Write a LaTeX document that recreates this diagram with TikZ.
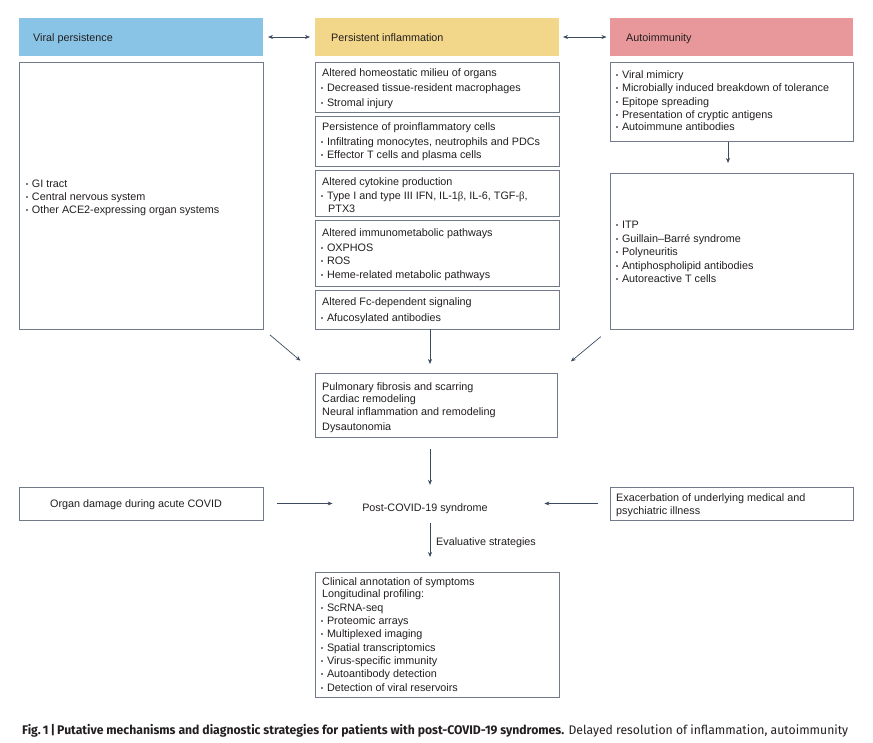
\documentclass[tikz,border=0pt]{standalone}
\usepackage{fontspec}
\usepackage{graphicx}
\setmainfont{Liberation Sans}
\newfontfamily\capfont{Fira Sans}
\newfontfamily\grk{Liberation Serif}
\usetikzlibrary{arrows.meta}
\definecolor{vblue}{RGB}{137,196,230}
\definecolor{pyellow}{RGB}{242,214,138}
\definecolor{apink}{RGB}{232,152,154}
\definecolor{boxline}{RGB}{112,122,136}
\definecolor{arrowc}{RGB}{62,75,94}
\definecolor{txtc}{RGB}{35,31,32}
\definecolor{bulc}{RGB}{125,125,125}
\newcommand{\bul}{\textcolor{bulc}{\rule[2.6pt]{1.8pt}{1.8pt}}\hspace{4pt}}
\begin{document}
\begin{tikzpicture}[x=1pt,y=-1pt,
  hdr/.style={draw=none, minimum height=38pt, anchor=north west, inner sep=0, outer sep=0},
  box/.style={draw=boxline, line width=0.8pt, anchor=north west, inner sep=0, outer sep=0},
  tx/.style={anchor=west, inner sep=0, yshift=-1.8pt, text height=7.8pt, text depth=2.2pt, text=txtc, font=\fontsize{10.8}{13}\selectfont},
  arr/.style={draw=arrowc, line width=0.7pt, -{Stealth[length=5pt,width=4pt]}},
  darr/.style={draw=arrowc, line width=0.7pt, {Stealth[length=5pt,width=4pt]}-{Stealth[length=5pt,width=4pt]}}
]
\useasboundingbox (0,0) rectangle (873,743);
\fill[white] (0,0) rectangle (873,743);

% headers
\node[hdr, fill=vblue, minimum width=244pt] (vh) at (19,18) {};
\node[hdr, fill=pyellow, minimum width=244pt] (ph) at (315,18) {};
\node[hdr, fill=apink, minimum width=243pt] (ah) at (610,18) {};
\node[tx] (vht) at (33,37) {Viral persistence};
\node[tx] (pht) at (331,37) {Persistent inflammation};
\node[tx] (aht) at (626,37) {Autoimmunity};

% viral box
\node[box, minimum width=244pt, minimum height=267pt] (vbox) at (19,62) {};
\node[tx] (v1) at (26,183) {\bul GI tract};
\node[tx] (v2) at (26,196) {\bul Central nervous system};
\node[tx] (v3) at (26,209) {\bul Other ACE2-expressing organ systems};

% middle boxes
\node[box, minimum width=244pt, minimum height=50pt] (m1) at (315,62) {};
\node[tx] (m1a) at (322,72) {Altered homeostatic milieu of organs};
\node[tx] (m1b) at (321,87) {\bul Decreased tissue-resident macrophages};
\node[tx] (m1c) at (321,102) {\bul Stromal injury};

\node[box, minimum width=244pt, minimum height=50pt] (m2) at (315,116) {};
\node[tx] (m2a) at (322,126) {Persistence of proinflammatory cells};
\node[tx] (m2b) at (321,141) {\bul Infiltrating monocytes, neutrophils and PDCs};
\node[tx] (m2c) at (321,154) {\bul Effector T cells and plasma cells};

\node[box, minimum width=244pt, minimum height=46pt] (m3) at (315,170) {};
\node[tx] (m3a) at (322,181) {Altered cytokine production};
\node[tx] (m3b) at (321,195) {\bul Type I and type III IFN, IL-1{\grk β}, IL-6, TGF-{\grk β},};
\node[tx] (m3c) at (328,208) {PTX3};

\node[box, minimum width=244pt, minimum height=66pt] (m4) at (315,220) {};
\node[tx] (m4a) at (322,232) {Altered immunometabolic pathways};
\node[tx] (m4b) at (321,247) {\bul OXPHOS};
\node[tx] (m4c) at (321,260) {\bul ROS};
\node[tx] (m4d) at (321,274) {\bul Heme-related metabolic pathways};

\node[box, minimum width=244pt, minimum height=39pt] (m5) at (315,290) {};
\node[tx] (m5a) at (322,301) {Altered Fc-dependent signaling};
\node[tx] (m5b) at (321,317) {\bul Afucosylated antibodies};

% autoimmunity boxes
\node[box, minimum width=243pt, minimum height=79pt] (a1) at (610,62) {};
\node[tx] (a1a) at (616,74) {\bul Viral mimicry};
\node[tx] (a1b) at (616,87) {\bul Microbially induced breakdown of tolerance};
\node[tx] (a1c) at (616,101) {\bul Epitope spreading};
\node[tx] (a1d) at (616,114) {\bul Presentation of cryptic antigens};
\node[tx] (a1e) at (616,126) {\bul Autoimmune antibodies};

\node[box, minimum width=243pt, minimum height=156pt] (a2) at (610,173) {};
\node[tx] (a2a) at (616,224) {\bul ITP};
\node[tx] (a2b) at (616,238) {\bul Guillain–Barré syndrome};
\node[tx] (a2c) at (616,251) {\bul Polyneuritis};
\node[tx] (a2d) at (616,265) {\bul Antiphospholipid antibodies};
\node[tx] (a2e) at (616,278) {\bul Autoreactive T cells};

% outcome box
\node[box, minimum width=242pt, minimum height=64pt] (out) at (315,373) {};
\node[tx] (o1) at (322,386) {Pulmonary fibrosis and scarring};
\node[tx] (o2) at (322,398) {Cardiac remodeling};
\node[tx] (o3) at (322,411) {Neural inflammation and remodeling};
\node[tx] (o4) at (322,426) {Dysautonomia};

% row of post-COVID
\node[box, minimum width=244pt, minimum height=33pt] (organ) at (19,487) {};
\node[tx, anchor=center] (organt) at (136,503) {Organ damage during acute COVID};
\node[tx, anchor=center] (post) at (425,507) {Post-COVID-19 syndrome};
\node[box, minimum width=243pt, minimum height=33pt] (exac) at (610,487) {};
\node[tx] (ex1) at (616,497) {Exacerbation of underlying medical and};
\node[tx] (ex2) at (616,510) {psychiatric illness};
\node[tx] (eval) at (436,541) {Evaluative strategies};

% bottom box
\node[box, minimum width=244pt, minimum height=125pt] (bot) at (315,572) {};
\node[tx] (b1) at (322,581) {Clinical annotation of symptoms};
\node[tx] (b2) at (322,593) {Longitudinal profiling:};
\node[tx] (b3) at (321,607) {\bul ScRNA-seq};
\node[tx] (b4) at (321,620) {\bul Proteomic arrays};
\node[tx] (b5) at (321,633) {\bul Multiplexed imaging};
\node[tx] (b6) at (321,647) {\bul Spatial transcriptomics};
\node[tx] (b7) at (321,660) {\bul Virus-specific immunity};
\node[tx] (b8) at (321,673) {\bul Autoantibody detection};
\node[tx] (b9) at (321,687) {\bul Detection of viral reservoirs};

% caption
\node[anchor=base west, inner sep=0, text=txtc] (cap) at (22,734) {\resizebox{826pt}{\height}{\capfont\fontsize{12.5}{14}\selectfont\textbf{Fig.\,1\,|\,Putative mechanisms and diagnostic strategies for patients with post-COVID-19 syndromes.} Delayed resolution of inflammation, autoimmunity}};

% connectors
\coordinate (colx) at (430,0);
\coordinate (acol) at (728,0);
\draw[darr, shorten <=5pt, shorten >=5pt] (vh.east) -- (ph.west);
\draw[darr, shorten <=4pt, shorten >=3.5pt] (ph.east) -- (ah.west);
\draw[arr, shorten <=1pt, shorten >=10pt] (a1.south -| acol) -- (a2.north -| acol);
\draw[arr, shorten >=9pt] (m5.south -| colx) -- (out.north -| colx);
\draw[arr, shorten <=9pt, shorten >=19pt] (vbox.south east) -- (out.north west);
\draw[arr, shorten <=12pt, shorten >=18pt] (a2.south west) -- (out.north east);
\draw[arr, shorten <=12pt, shorten >=18.8pt] (out.south -| colx) -- (post.north -| colx);
\draw[arr, shorten <=14pt, shorten >=29.5pt] (organ.east) -- (organ.east -| post.west);
\draw[arr, shorten <=12pt, shorten >=56.5pt] (exac.west) -- (exac.west -| post.east);
\draw[arr, shorten <=9.2pt, shorten >=15pt] (post.south -| colx) -- (bot.north -| colx);
\end{tikzpicture}
\end{document}
